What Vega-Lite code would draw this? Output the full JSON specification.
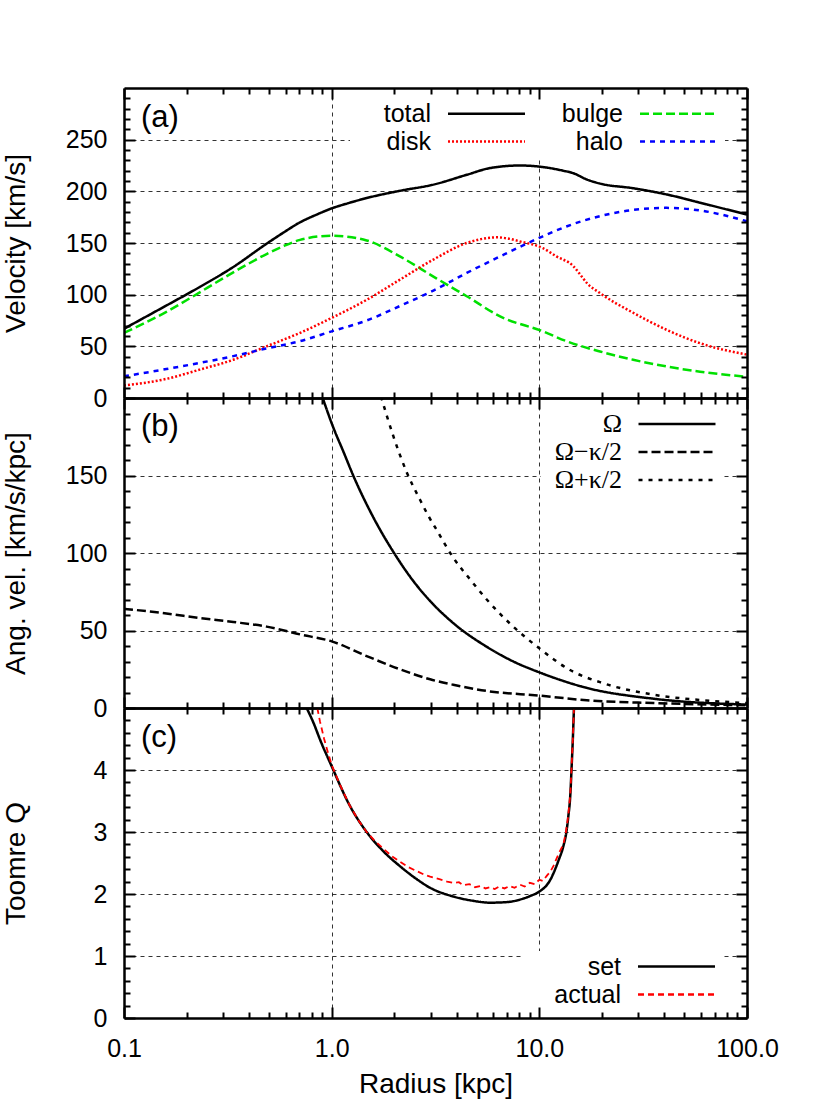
{
"$schema": "https://vega.github.io/schema/vega-lite/v6.json",
"background": "white",
"padding": {"left": 2, "top": 87, "right": 5, "bottom": 5},
"config": {"font": "Liberation Sans", "view": {"stroke": null}},
"datasets": {
"vel": [
{"s":"total","r":0.1,"v":67},{"s":"total","r":0.16,"v":89.5},{"s":"total","r":0.2,"v":100.2},{"s":"total","r":0.232,"v":107.5},{"s":"total","r":0.336,"v":126.8},{"s":"total","r":0.486,"v":149.3},{"s":"total","r":0.585,"v":160},{"s":"total","r":0.704,"v":170},{"s":"total","r":0.847,"v":177.5},{"s":"total","r":1.0,"v":183.5},{"s":"total","r":1.2,"v":188.5},{"s":"total","r":1.474,"v":193.5},{"s":"total","r":2.13,"v":200.5},{"s":"total","r":3.09,"v":206.5},{"s":"total","r":4.47,"v":216},{"s":"total","r":5.79,"v":222.5},{"s":"total","r":8.07,"v":225},{"s":"total","r":10.4,"v":223.5},{"s":"total","r":13,"v":220},{"s":"total","r":14.6,"v":217.5},{"s":"total","r":16.9,"v":211.5},{"s":"total","r":19.6,"v":207.5},{"s":"total","r":28.3,"v":203},{"s":"total","r":41,"v":197},{"s":"total","r":59.4,"v":189},{"s":"total","r":100,"v":177.5},
{"s":"bulge","r":0.1,"v":63},{"s":"bulge","r":0.16,"v":83.4},{"s":"bulge","r":0.2,"v":94.6},{"s":"bulge","r":0.336,"v":121.6},{"s":"bulge","r":0.486,"v":139.3},{"s":"bulge","r":0.585,"v":146.9},{"s":"bulge","r":0.704,"v":153},{"s":"bulge","r":1.0,"v":157},{"s":"bulge","r":1.474,"v":152.5},{"s":"bulge","r":2.13,"v":137},{"s":"bulge","r":3.09,"v":117.5},{"s":"bulge","r":3.71,"v":108},{"s":"bulge","r":4.47,"v":98.5},{"s":"bulge","r":6.47,"v":79},{"s":"bulge","r":10.4,"v":64.5},{"s":"bulge","r":13.5,"v":55},{"s":"bulge","r":19.6,"v":45},{"s":"bulge","r":28.3,"v":37},{"s":"bulge","r":41,"v":30.5},{"s":"bulge","r":59.4,"v":25.5},{"s":"bulge","r":100,"v":20.5},
{"s":"disk","r":0.1,"v":12},{"s":"disk","r":0.16,"v":18.5},{"s":"disk","r":0.232,"v":27.5},{"s":"disk","r":0.336,"v":37},{"s":"disk","r":0.486,"v":50},{"s":"disk","r":0.704,"v":63},{"s":"disk","r":1.0,"v":77.5},{"s":"disk","r":1.474,"v":95},{"s":"disk","r":2.13,"v":114.5},{"s":"disk","r":3.09,"v":134},{"s":"disk","r":4.47,"v":150},{"s":"disk","r":5.3,"v":154},{"s":"disk","r":6.23,"v":155.5},{"s":"disk","r":7,"v":154.5},{"s":"disk","r":8.07,"v":151.5},{"s":"disk","r":10.4,"v":145},{"s":"disk","r":12.1,"v":137},{"s":"disk","r":14.6,"v":127.5},{"s":"disk","r":16,"v":117.5},{"s":"disk","r":16.9,"v":111.5},{"s":"disk","r":19.6,"v":101.5},{"s":"disk","r":28.3,"v":82.5},{"s":"disk","r":41,"v":66},{"s":"disk","r":59.4,"v":53},{"s":"disk","r":100,"v":42},
{"s":"halo","r":0.1,"v":21},{"s":"halo","r":0.16,"v":28},{"s":"halo","r":0.232,"v":34},{"s":"halo","r":0.336,"v":40.5},{"s":"halo","r":0.486,"v":48},{"s":"halo","r":0.704,"v":55},{"s":"halo","r":1.0,"v":64.5},{"s":"halo","r":1.474,"v":75},{"s":"halo","r":2.13,"v":89},{"s":"halo","r":3.09,"v":104},{"s":"halo","r":4.47,"v":121},{"s":"halo","r":6.47,"v":137},{"s":"halo","r":10.4,"v":156.5},{"s":"halo","r":13.5,"v":166},{"s":"halo","r":19.6,"v":176},{"s":"halo","r":28.3,"v":182},{"s":"halo","r":41,"v":184},{"s":"halo","r":59.4,"v":181.5},{"s":"halo","r":100,"v":171}
],
"ang": [
{"s":"Ω","r":0.9,"v":201},{"s":"Ω","r":1.02,"v":180.7},{"s":"Ω","r":1.138,"v":165.5},{"s":"Ω","r":1.272,"v":149.8},{"s":"Ω","r":1.587,"v":123},{"s":"Ω","r":1.98,"v":100.8},{"s":"Ω","r":2.47,"v":82},{"s":"Ω","r":2.98,"v":69},{"s":"Ω","r":3.85,"v":54.8},{"s":"Ω","r":5.58,"v":39.5},{"s":"Ω","r":7.5,"v":30},{"s":"Ω","r":10,"v":23},{"s":"Ω","r":16.9,"v":13},{"s":"Ω","r":35.4,"v":6},{"s":"Ω","r":100,"v":2.2},
{"s":"Ω−κ/2","r":0.1,"v":64},{"s":"Ω−κ/2","r":0.16,"v":61},{"s":"Ω−κ/2","r":0.232,"v":58},{"s":"Ω−κ/2","r":0.336,"v":55.5},{"s":"Ω−κ/2","r":0.486,"v":52.5},{"s":"Ω−κ/2","r":0.704,"v":47.5},{"s":"Ω−κ/2","r":1.0,"v":43},{"s":"Ω−κ/2","r":1.474,"v":33.5},{"s":"Ω−κ/2","r":2.13,"v":25},{"s":"Ω−κ/2","r":2.98,"v":18.5},{"s":"Ω−κ/2","r":3.85,"v":15},{"s":"Ω−κ/2","r":5.58,"v":11},{"s":"Ω−κ/2","r":10,"v":8},{"s":"Ω−κ/2","r":16.9,"v":5},{"s":"Ω−κ/2","r":35.4,"v":3.2},{"s":"Ω−κ/2","r":100,"v":1.8},
{"s":"Ω+κ/2","r":1.728,"v":201},{"s":"Ω+κ/2","r":1.98,"v":175.5},{"s":"Ω+κ/2","r":2.3,"v":152},{"s":"Ω+κ/2","r":2.66,"v":134.5},{"s":"Ω+κ/2","r":2.92,"v":124},{"s":"Ω+κ/2","r":3.2,"v":115},{"s":"Ω+κ/2","r":3.85,"v":97},{"s":"Ω+κ/2","r":4.64,"v":83},{"s":"Ω+κ/2","r":5.58,"v":70},{"s":"Ω+κ/2","r":7.49,"v":52.5},{"s":"Ω+κ/2","r":10,"v":38.5},{"s":"Ω+κ/2","r":14.05,"v":24.5},{"s":"Ω+κ/2","r":20.3,"v":16},{"s":"Ω+κ/2","r":35.4,"v":8.6},{"s":"Ω+κ/2","r":61.6,"v":5},{"s":"Ω+κ/2","r":100,"v":3.2}
],
"toomre": [
{"s":"set","r":0.758,"v":5.0},{"s":"set","r":0.82,"v":4.75},{"s":"set","r":0.879,"v":4.49},{"s":"set","r":1.0,"v":4.06},{"s":"set","r":1.225,"v":3.42},{"s":"set","r":1.474,"v":3.0},{"s":"set","r":1.773,"v":2.69},{"s":"set","r":2.13,"v":2.45},{"s":"set","r":2.567,"v":2.24},{"s":"set","r":2.98,"v":2.1},{"s":"set","r":3.85,"v":1.96},{"s":"set","r":4.8,"v":1.89},{"s":"set","r":5.79,"v":1.86},{"s":"set","r":7,"v":1.87},{"s":"set","r":8.07,"v":1.91},{"s":"set","r":9,"v":1.965},{"s":"set","r":10,"v":2.04},{"s":"set","r":10.9,"v":2.15},{"s":"set","r":11.3,"v":2.23},{"s":"set","r":11.68,"v":2.33},{"s":"set","r":12.4,"v":2.55},{"s":"set","r":13.05,"v":2.77},{"s":"set","r":13.5,"v":3.0},{"s":"set","r":13.79,"v":3.25},{"s":"set","r":14.1,"v":3.6},{"s":"set","r":14.31,"v":4.06},{"s":"set","r":14.5,"v":4.5},{"s":"set","r":14.68,"v":5.0},
{"s":"actual","r":0.853,"v":5.0},{"s":"actual","r":0.879,"v":4.78},{"s":"actual","r":0.92,"v":4.5},{"s":"actual","r":0.96,"v":4.28},{"s":"actual","r":1.0,"v":4.08},{"s":"actual","r":1.1,"v":3.75},{"s":"actual","r":1.225,"v":3.42},{"s":"actual","r":1.35,"v":3.18},{"s":"actual","r":1.474,"v":3.0},{"s":"actual","r":1.6,"v":2.87},{"s":"actual","r":1.773,"v":2.73},{"s":"actual","r":1.95,"v":2.61},{"s":"actual","r":2.13,"v":2.52},{"s":"actual","r":2.35,"v":2.43},{"s":"actual","r":2.567,"v":2.37},{"s":"actual","r":2.8,"v":2.31},{"s":"actual","r":2.98,"v":2.28},{"s":"actual","r":3.3,"v":2.24},{"s":"actual","r":3.6,"v":2.2},{"s":"actual","r":3.85,"v":2.18},{"s":"actual","r":4.1,"v":2.19},{"s":"actual","r":4.3,"v":2.14},{"s":"actual","r":4.6,"v":2.16},{"s":"actual","r":4.9,"v":2.11},{"s":"actual","r":5.2,"v":2.13},{"s":"actual","r":5.5,"v":2.09},{"s":"actual","r":5.79,"v":2.11},{"s":"actual","r":6.1,"v":2.08},{"s":"actual","r":6.4,"v":2.12},{"s":"actual","r":6.8,"v":2.09},{"s":"actual","r":7.2,"v":2.13},{"s":"actual","r":7.6,"v":2.1},{"s":"actual","r":8.07,"v":2.15},{"s":"actual","r":8.5,"v":2.12},{"s":"actual","r":9,"v":2.18},{"s":"actual","r":9.5,"v":2.16},{"s":"actual","r":10,"v":2.23},{"s":"actual","r":10.4,"v":2.21},{"s":"actual","r":10.9,"v":2.3},{"s":"actual","r":11.3,"v":2.36},{"s":"actual","r":11.68,"v":2.45},{"s":"actual","r":12.1,"v":2.57},{"s":"actual","r":12.6,"v":2.7},{"s":"actual","r":13.05,"v":2.8},{"s":"actual","r":13.4,"v":2.98},{"s":"actual","r":13.79,"v":3.27},{"s":"actual","r":14.1,"v":3.62},{"s":"actual","r":14.31,"v":4.08},{"s":"actual","r":14.5,"v":4.5},{"s":"actual","r":14.68,"v":5.0}
]
},
"vconcat": [
{
"width": 623, "height": 310,
"title": {"text": "(a)", "anchor": "start", "frame": "group", "orient": "top", "offset": 0, "dx": 17, "dy": 71, "baseline": "alphabetic", "font": "Liberation Sans", "fontSize": 31, "fontWeight": "normal", "color": "black"},
"data": {"name": "vel"},
"layer": [
{"mark": {"type": "line", "opacity": 0}, "encoding": {
"x": {"field": "r", "type": "quantitative", "scale": {"type": "log", "domain": [0.1, 100], "nice": false}, "axis": {"orient": "bottom", "values": [1, 10], "grid": true, "gridColor": "black", "gridOpacity": 0.8, "gridDash": [4, 4], "gridWidth": 1, "ticks": false, "labels": false, "domain": false, "title": null, "zindex": 0}},
"y": {"field": "v", "type": "quantitative", "scale": {"domain": [0, 300], "nice": false, "zero": false}, "axis": {"orient": "left", "values": [50, 100, 150, 200, 250], "grid": true, "gridColor": "black", "gridOpacity": 0.8, "gridDash": [4, 4], "gridWidth": 1, "ticks": false, "labels": false, "domain": false, "title": null, "zindex": 0}}}},
{"mark": {"type": "line", "strokeWidth": 2.5, "clip": true, "interpolate": "monotone"}, "encoding": {
"x": {"field": "r", "type": "quantitative", "scale": {"type": "log", "domain": [0.1, 100], "nice": false}, "axis": null},
"y": {"field": "v", "type": "quantitative", "scale": {"domain": [0, 300], "nice": false, "zero": false}, "axis": null},
"color": {"field": "s", "type": "nominal", "scale": {"domain": ["total", "disk", "bulge", "halo"], "range": ["#000000", "#ff0000", "#00e000", "#0000ff"]},
"legend": {"orient": "none", "legendX": 226, "legendY": 10, "title": null, "columns": 2, "columnPadding": 15, "rowPadding": 2, "padding": 3, "fillColor": "white", "symbolType": "M-8,0L8,0", "symbolSize": 92.6, "symbolStrokeWidth": 2.5, "symbolOffset": 121, "labelOffset": -68, "labelAlign": "right", "labelFont": "Liberation Sans", "labelFontSize": 25, "labelColor": "black", "labelLimit": 300}},
"strokeDash": {"field": "s", "type": "nominal", "scale": {"domain": ["total", "disk", "bulge", "halo"], "range": [[1, 0], [2, 2], [9, 4], [5, 5]]},
"legend": {"orient": "none", "legendX": 226, "legendY": 10, "title": null, "columns": 2, "columnPadding": 15, "rowPadding": 2, "padding": 3, "fillColor": "white", "symbolType": "M-8,0L8,0", "symbolSize": 92.6, "symbolStrokeWidth": 2.5, "symbolOffset": 121, "labelOffset": -68, "labelAlign": "right", "labelFont": "Liberation Sans", "labelFontSize": 25, "labelColor": "black", "labelLimit": 300}}}},
{"mark": {"type": "line", "opacity": 0}, "encoding": {
"x": {"field": "r", "type": "quantitative", "scale": {"type": "log", "domain": [0.1, 100], "nice": false}, "axis": {"orient": "bottom", "values": [0.1, 1, 10, 100], "tickSize": -11, "tickWidth": 2, "tickColor": "black", "domain": true, "domainWidth": 2.5, "domainColor": "black", "labels": false, "grid": false, "title": null, "zindex": 1}},
"y": {"field": "v", "type": "quantitative", "scale": {"domain": [0, 300], "nice": false, "zero": false}, "axis": {"orient": "left", "values": [0, 50, 100, 150, 200, 250], "tickSize": -11, "tickWidth": 2, "tickColor": "black", "domain": true, "domainWidth": 2.5, "domainColor": "black", "grid": false, "format": "d", "labelFont": "Liberation Sans", "labelFontSize": 25, "labelColor": "black", "labelPadding": 28, "labelFlush": false, "labelOverlap": false, "title": "Velocity [km/s]", "titleFont": "Liberation Sans", "titleFontSize": 28, "titleFontWeight": "normal", "titleColor": "black", "titleAngle": 270, "titleX": -99.5, "titleY": 155, "titleAlign": "center", "titleBaseline": "alphabetic", "zindex": 1}}}},
{"mark": {"type": "line", "opacity": 0}, "encoding": {
"x": {"field": "r", "type": "quantitative", "scale": {"type": "log", "domain": [0.1, 100], "nice": false}, "axis": {"orient": "bottom", "values": [0.2, 0.3, 0.4, 0.5, 0.6, 0.7, 0.8, 0.9, 2, 3, 4, 5, 6, 7, 8, 9, 20, 30, 40, 50, 60, 70, 80, 90], "tickSize": -6, "tickWidth": 2, "tickColor": "black", "domain": false, "labels": false, "grid": false, "title": null, "zindex": 1}},
"y": {"field": "v", "type": "quantitative", "scale": {"domain": [0, 300], "nice": false, "zero": false}, "axis": {"orient": "left", "values": [10, 20, 30, 40, 60, 70, 80, 90, 110, 120, 130, 140, 160, 170, 180, 190, 210, 220, 230, 240, 260, 270, 280, 290], "tickSize": -6, "tickWidth": 2, "tickColor": "black", "domain": false, "labels": false, "grid": false, "title": null, "zindex": 1}}}},
{"mark": {"type": "line", "opacity": 0}, "encoding": {
"x": {"field": "r", "type": "quantitative", "scale": {"type": "log", "domain": [0.1, 100], "nice": false}, "axis": {"orient": "top", "values": [0.1, 1, 10, 100], "tickSize": -11, "tickWidth": 2, "tickColor": "black", "domain": true, "domainWidth": 2.5, "domainColor": "black", "labels": false, "grid": false, "title": null, "zindex": 1}},
"y": {"field": "v", "type": "quantitative", "scale": {"domain": [0, 300], "nice": false, "zero": false}, "axis": {"orient": "right", "values": [0, 50, 100, 150, 200, 250], "tickSize": -11, "tickWidth": 2, "tickColor": "black", "domain": true, "domainWidth": 2.5, "domainColor": "black", "labels": false, "grid": false, "title": null, "zindex": 1}}}},
{"mark": {"type": "line", "opacity": 0}, "encoding": {
"x": {"field": "r", "type": "quantitative", "scale": {"type": "log", "domain": [0.1, 100], "nice": false}, "axis": {"orient": "top", "values": [0.2, 0.3, 0.4, 0.5, 0.6, 0.7, 0.8, 0.9, 2, 3, 4, 5, 6, 7, 8, 9, 20, 30, 40, 50, 60, 70, 80, 90], "tickSize": -6, "tickWidth": 2, "tickColor": "black", "domain": false, "labels": false, "grid": false, "title": null, "zindex": 1}},
"y": {"field": "v", "type": "quantitative", "scale": {"domain": [0, 300], "nice": false, "zero": false}, "axis": {"orient": "right", "values": [10, 20, 30, 40, 60, 70, 80, 90, 110, 120, 130, 140, 160, 170, 180, 190, 210, 220, 230, 240, 260, 270, 280, 290], "tickSize": -6, "tickWidth": 2, "tickColor": "black", "domain": false, "labels": false, "grid": false, "title": null, "zindex": 1}}}}
],
"resolve": {"axis": {"x": "independent", "y": "independent"}}
},
{
"width": 623, "height": 310,
"title": {"text": "(b)", "anchor": "start", "frame": "group", "orient": "top", "offset": 0, "dx": 17, "dy": 71, "baseline": "alphabetic", "font": "Liberation Sans", "fontSize": 31, "fontWeight": "normal", "color": "black"},
"data": {"name": "ang"},
"layer": [
{"mark": {"type": "line", "opacity": 0}, "encoding": {
"x": {"field": "r", "type": "quantitative", "scale": {"type": "log", "domain": [0.1, 100], "nice": false}, "axis": {"orient": "bottom", "values": [1, 10], "grid": true, "gridColor": "black", "gridOpacity": 0.8, "gridDash": [4, 4], "gridWidth": 1, "ticks": false, "labels": false, "domain": false, "title": null, "zindex": 0}},
"y": {"field": "v", "type": "quantitative", "scale": {"domain": [0, 200], "nice": false, "zero": false}, "axis": {"orient": "left", "values": [50, 100, 150], "grid": true, "gridColor": "black", "gridOpacity": 0.8, "gridDash": [4, 4], "gridWidth": 1, "ticks": false, "labels": false, "domain": false, "title": null, "zindex": 0}}}},
{"mark": {"type": "line", "strokeWidth": 2.5, "clip": true, "interpolate": "monotone"}, "encoding": {
"x": {"field": "r", "type": "quantitative", "scale": {"type": "log", "domain": [0.1, 100], "nice": false}, "axis": null},
"y": {"field": "v", "type": "quantitative", "scale": {"domain": [0, 200], "nice": false, "zero": false}, "axis": null},
"color": {"field": "s", "type": "nominal", "scale": {"domain": ["Ω", "Ω−κ/2", "Ω+κ/2"], "range": ["#000000", "#000000", "#000000"]},
"legend": {"orient": "none", "legendX": 417, "legendY": 10, "title": null, "columns": 1, "rowPadding": 2, "padding": 3, "fillColor": "white", "symbolType": "M-8,0L8,0", "symbolSize": 92.6, "symbolStrokeWidth": 2.5, "symbolOffset": 120, "labelOffset": -68, "labelAlign": "right", "labelFont": "Liberation Serif", "labelFontSize": 26, "labelColor": "black", "labelLimit": 300}},
"strokeDash": {"field": "s", "type": "nominal", "scale": {"domain": ["Ω", "Ω−κ/2", "Ω+κ/2"], "range": [[1, 0], [9, 4], [4, 6]]},
"legend": {"orient": "none", "legendX": 417, "legendY": 10, "title": null, "columns": 1, "rowPadding": 2, "padding": 3, "fillColor": "white", "symbolType": "M-8,0L8,0", "symbolSize": 92.6, "symbolStrokeWidth": 2.5, "symbolOffset": 120, "labelOffset": -68, "labelAlign": "right", "labelFont": "Liberation Serif", "labelFontSize": 26, "labelColor": "black", "labelLimit": 300}}}},
{"mark": {"type": "line", "opacity": 0}, "encoding": {
"x": {"field": "r", "type": "quantitative", "scale": {"type": "log", "domain": [0.1, 100], "nice": false}, "axis": {"orient": "bottom", "values": [0.1, 1, 10, 100], "tickSize": -11, "tickWidth": 2, "tickColor": "black", "domain": true, "domainWidth": 2.5, "domainColor": "black", "labels": false, "grid": false, "title": null, "zindex": 1}},
"y": {"field": "v", "type": "quantitative", "scale": {"domain": [0, 200], "nice": false, "zero": false}, "axis": {"orient": "left", "values": [0, 50, 100, 150], "tickSize": -11, "tickWidth": 2, "tickColor": "black", "domain": true, "domainWidth": 2.5, "domainColor": "black", "grid": false, "format": "d", "labelFont": "Liberation Sans", "labelFontSize": 25, "labelColor": "black", "labelPadding": 28, "labelFlush": false, "labelOverlap": false, "title": "Ang. vel. [km/s/kpc]", "titleFont": "Liberation Sans", "titleFontSize": 28, "titleFontWeight": "normal", "titleColor": "black", "titleAngle": 270, "titleX": -99.5, "titleY": 155, "titleAlign": "center", "titleBaseline": "alphabetic", "zindex": 1}}}},
{"mark": {"type": "line", "opacity": 0}, "encoding": {
"x": {"field": "r", "type": "quantitative", "scale": {"type": "log", "domain": [0.1, 100], "nice": false}, "axis": {"orient": "bottom", "values": [0.2, 0.3, 0.4, 0.5, 0.6, 0.7, 0.8, 0.9, 2, 3, 4, 5, 6, 7, 8, 9, 20, 30, 40, 50, 60, 70, 80, 90], "tickSize": -6, "tickWidth": 2, "tickColor": "black", "domain": false, "labels": false, "grid": false, "title": null, "zindex": 1}},
"y": {"field": "v", "type": "quantitative", "scale": {"domain": [0, 200], "nice": false, "zero": false}, "axis": {"orient": "left", "values": [10, 20, 30, 40, 60, 70, 80, 90, 110, 120, 130, 140, 160, 170, 180, 190], "tickSize": -6, "tickWidth": 2, "tickColor": "black", "domain": false, "labels": false, "grid": false, "title": null, "zindex": 1}}}},
{"mark": {"type": "line", "opacity": 0}, "encoding": {
"x": {"field": "r", "type": "quantitative", "scale": {"type": "log", "domain": [0.1, 100], "nice": false}, "axis": {"orient": "top", "values": [0.1, 1, 10, 100], "tickSize": -11, "tickWidth": 2, "tickColor": "black", "domain": true, "domainWidth": 2.5, "domainColor": "black", "labels": false, "grid": false, "title": null, "zindex": 1}},
"y": {"field": "v", "type": "quantitative", "scale": {"domain": [0, 200], "nice": false, "zero": false}, "axis": {"orient": "right", "values": [0, 50, 100, 150], "tickSize": -11, "tickWidth": 2, "tickColor": "black", "domain": true, "domainWidth": 2.5, "domainColor": "black", "labels": false, "grid": false, "title": null, "zindex": 1}}}},
{"mark": {"type": "line", "opacity": 0}, "encoding": {
"x": {"field": "r", "type": "quantitative", "scale": {"type": "log", "domain": [0.1, 100], "nice": false}, "axis": {"orient": "top", "values": [0.2, 0.3, 0.4, 0.5, 0.6, 0.7, 0.8, 0.9, 2, 3, 4, 5, 6, 7, 8, 9, 20, 30, 40, 50, 60, 70, 80, 90], "tickSize": -6, "tickWidth": 2, "tickColor": "black", "domain": false, "labels": false, "grid": false, "title": null, "zindex": 1}},
"y": {"field": "v", "type": "quantitative", "scale": {"domain": [0, 200], "nice": false, "zero": false}, "axis": {"orient": "right", "values": [10, 20, 30, 40, 60, 70, 80, 90, 110, 120, 130, 140, 160, 170, 180, 190], "tickSize": -6, "tickWidth": 2, "tickColor": "black", "domain": false, "labels": false, "grid": false, "title": null, "zindex": 1}}}}
],
"resolve": {"axis": {"x": "independent", "y": "independent"}}
},
{
"width": 623, "height": 310,
"title": {"text": "(c)", "anchor": "start", "frame": "group", "orient": "top", "offset": 0, "dx": 17, "dy": 71, "baseline": "alphabetic", "font": "Liberation Sans", "fontSize": 31, "fontWeight": "normal", "color": "black"},
"data": {"name": "toomre"},
"layer": [
{"mark": {"type": "line", "opacity": 0}, "encoding": {
"x": {"field": "r", "type": "quantitative", "scale": {"type": "log", "domain": [0.1, 100], "nice": false}, "axis": {"orient": "bottom", "values": [1, 10], "grid": true, "gridColor": "black", "gridOpacity": 0.8, "gridDash": [4, 4], "gridWidth": 1, "ticks": false, "labels": false, "domain": false, "title": null, "zindex": 0}},
"y": {"field": "v", "type": "quantitative", "scale": {"domain": [0, 5], "nice": false, "zero": false}, "axis": {"orient": "left", "values": [1, 2, 3, 4], "grid": true, "gridColor": "black", "gridOpacity": 0.8, "gridDash": [4, 4], "gridWidth": 1, "ticks": false, "labels": false, "domain": false, "title": null, "zindex": 0}}}},
{"transform": [{"filter": "datum.s === 'set'"}], "mark": {"type": "line", "strokeWidth": 2.5, "clip": true, "interpolate": "monotone"}, "encoding": {
"x": {"field": "r", "type": "quantitative", "scale": {"type": "log", "domain": [0.1, 100], "nice": false}, "axis": null},
"y": {"field": "v", "type": "quantitative", "scale": {"domain": [0, 5], "nice": false, "zero": false}, "axis": null},
"color": {"field": "s", "type": "nominal", "scale": {"domain": ["set", "actual"], "range": ["#000000", "#ff0000"]},
"legend": {"orient": "none", "legendX": 399, "legendY": 243, "title": null, "columns": 1, "rowPadding": 2, "padding": 3, "fillColor": "white", "symbolType": "M-8,0L8,0", "symbolSize": 92.6, "symbolStrokeWidth": 2.5, "symbolOffset": 138, "labelOffset": -68, "labelAlign": "right", "labelFont": "Liberation Sans", "labelFontSize": 25, "labelColor": "black", "labelLimit": 300}},
"strokeDash": {"field": "s", "type": "nominal", "scale": {"domain": ["set", "actual"], "range": [[1, 0], [6, 4]]},
"legend": {"orient": "none", "legendX": 399, "legendY": 243, "title": null, "columns": 1, "rowPadding": 2, "padding": 3, "fillColor": "white", "symbolType": "M-8,0L8,0", "symbolSize": 92.6, "symbolStrokeWidth": 2.5, "symbolOffset": 138, "labelOffset": -68, "labelAlign": "right", "labelFont": "Liberation Sans", "labelFontSize": 25, "labelColor": "black", "labelLimit": 300}}}},
{"transform": [{"filter": "datum.s === 'actual'"}], "mark": {"type": "line", "strokeWidth": 1.8, "clip": true}, "encoding": {
"x": {"field": "r", "type": "quantitative", "scale": {"type": "log", "domain": [0.1, 100], "nice": false}, "axis": null},
"y": {"field": "v", "type": "quantitative", "scale": {"domain": [0, 5], "nice": false, "zero": false}, "axis": null},
"color": {"field": "s", "type": "nominal", "scale": {"domain": ["set", "actual"], "range": ["#000000", "#ff0000"]},
"legend": {"orient": "none", "legendX": 399, "legendY": 243, "title": null, "columns": 1, "rowPadding": 2, "padding": 3, "fillColor": "white", "symbolType": "M-8,0L8,0", "symbolSize": 92.6, "symbolStrokeWidth": 2.5, "symbolOffset": 138, "labelOffset": -68, "labelAlign": "right", "labelFont": "Liberation Sans", "labelFontSize": 25, "labelColor": "black", "labelLimit": 300}},
"strokeDash": {"field": "s", "type": "nominal", "scale": {"domain": ["set", "actual"], "range": [[1, 0], [6, 4]]},
"legend": {"orient": "none", "legendX": 399, "legendY": 243, "title": null, "columns": 1, "rowPadding": 2, "padding": 3, "fillColor": "white", "symbolType": "M-8,0L8,0", "symbolSize": 92.6, "symbolStrokeWidth": 2.5, "symbolOffset": 138, "labelOffset": -68, "labelAlign": "right", "labelFont": "Liberation Sans", "labelFontSize": 25, "labelColor": "black", "labelLimit": 300}}}},
{"mark": {"type": "line", "opacity": 0}, "encoding": {
"x": {"field": "r", "type": "quantitative", "scale": {"type": "log", "domain": [0.1, 100], "nice": false}, "axis": {"orient": "bottom", "values": [0.1, 1, 10, 100], "tickSize": -11, "tickWidth": 2, "tickColor": "black", "domain": true, "domainWidth": 2.5, "domainColor": "black", "grid": false, "format": ".1f", "labelFont": "Liberation Sans", "labelFontSize": 25, "labelColor": "black", "labelPadding": 29, "labelFlush": false, "labelOverlap": false, "title": "Radius [kpc]", "titleFont": "Liberation Sans", "titleFontSize": 28, "titleFontWeight": "normal", "titleColor": "black", "titleY": 74, "titleBaseline": "alphabetic", "zindex": 1}},
"y": {"field": "v", "type": "quantitative", "scale": {"domain": [0, 5], "nice": false, "zero": false}, "axis": {"orient": "left", "values": [0, 1, 2, 3, 4], "tickSize": -11, "tickWidth": 2, "tickColor": "black", "domain": true, "domainWidth": 2.5, "domainColor": "black", "grid": false, "format": "d", "labelFont": "Liberation Sans", "labelFontSize": 25, "labelColor": "black", "labelPadding": 28, "labelFlush": false, "labelOverlap": false, "title": "Toomre Q", "titleFont": "Liberation Sans", "titleFontSize": 28, "titleFontWeight": "normal", "titleColor": "black", "titleAngle": 270, "titleX": -99.5, "titleY": 155, "titleAlign": "center", "titleBaseline": "alphabetic", "zindex": 1}}}},
{"mark": {"type": "line", "opacity": 0}, "encoding": {
"x": {"field": "r", "type": "quantitative", "scale": {"type": "log", "domain": [0.1, 100], "nice": false}, "axis": {"orient": "bottom", "values": [0.2, 0.3, 0.4, 0.5, 0.6, 0.7, 0.8, 0.9, 2, 3, 4, 5, 6, 7, 8, 9, 20, 30, 40, 50, 60, 70, 80, 90], "tickSize": -6, "tickWidth": 2, "tickColor": "black", "domain": false, "labels": false, "grid": false, "title": null, "zindex": 1}},
"y": {"field": "v", "type": "quantitative", "scale": {"domain": [0, 5], "nice": false, "zero": false}, "axis": {"orient": "left", "values": [0.2, 0.4, 0.6, 0.8, 1.2, 1.4, 1.6, 1.8, 2.2, 2.4, 2.6, 2.8, 3.2, 3.4, 3.6, 3.8, 4.2, 4.4, 4.6, 4.8], "tickSize": -6, "tickWidth": 2, "tickColor": "black", "domain": false, "labels": false, "grid": false, "title": null, "zindex": 1}}}},
{"mark": {"type": "line", "opacity": 0}, "encoding": {
"x": {"field": "r", "type": "quantitative", "scale": {"type": "log", "domain": [0.1, 100], "nice": false}, "axis": {"orient": "top", "values": [0.1, 1, 10, 100], "tickSize": -11, "tickWidth": 2, "tickColor": "black", "domain": true, "domainWidth": 2.5, "domainColor": "black", "labels": false, "grid": false, "title": null, "zindex": 1}},
"y": {"field": "v", "type": "quantitative", "scale": {"domain": [0, 5], "nice": false, "zero": false}, "axis": {"orient": "right", "values": [0, 1, 2, 3, 4], "tickSize": -11, "tickWidth": 2, "tickColor": "black", "domain": true, "domainWidth": 2.5, "domainColor": "black", "labels": false, "grid": false, "title": null, "zindex": 1}}}},
{"mark": {"type": "line", "opacity": 0}, "encoding": {
"x": {"field": "r", "type": "quantitative", "scale": {"type": "log", "domain": [0.1, 100], "nice": false}, "axis": {"orient": "top", "values": [0.2, 0.3, 0.4, 0.5, 0.6, 0.7, 0.8, 0.9, 2, 3, 4, 5, 6, 7, 8, 9, 20, 30, 40, 50, 60, 70, 80, 90], "tickSize": -6, "tickWidth": 2, "tickColor": "black", "domain": false, "labels": false, "grid": false, "title": null, "zindex": 1}},
"y": {"field": "v", "type": "quantitative", "scale": {"domain": [0, 5], "nice": false, "zero": false}, "axis": {"orient": "right", "values": [0.2, 0.4, 0.6, 0.8, 1.2, 1.4, 1.6, 1.8, 2.2, 2.4, 2.6, 2.8, 3.2, 3.4, 3.6, 3.8, 4.2, 4.4, 4.6, 4.8], "tickSize": -6, "tickWidth": 2, "tickColor": "black", "domain": false, "labels": false, "grid": false, "title": null, "zindex": 1}}}}
],
"resolve": {"axis": {"x": "independent", "y": "independent"}}
}
],
"spacing": 0,
"bounds": "flush",
"resolve": {"scale": {"color": "independent", "strokeDash": "independent"}, "legend": {"color": "independent", "strokeDash": "independent"}}
}
